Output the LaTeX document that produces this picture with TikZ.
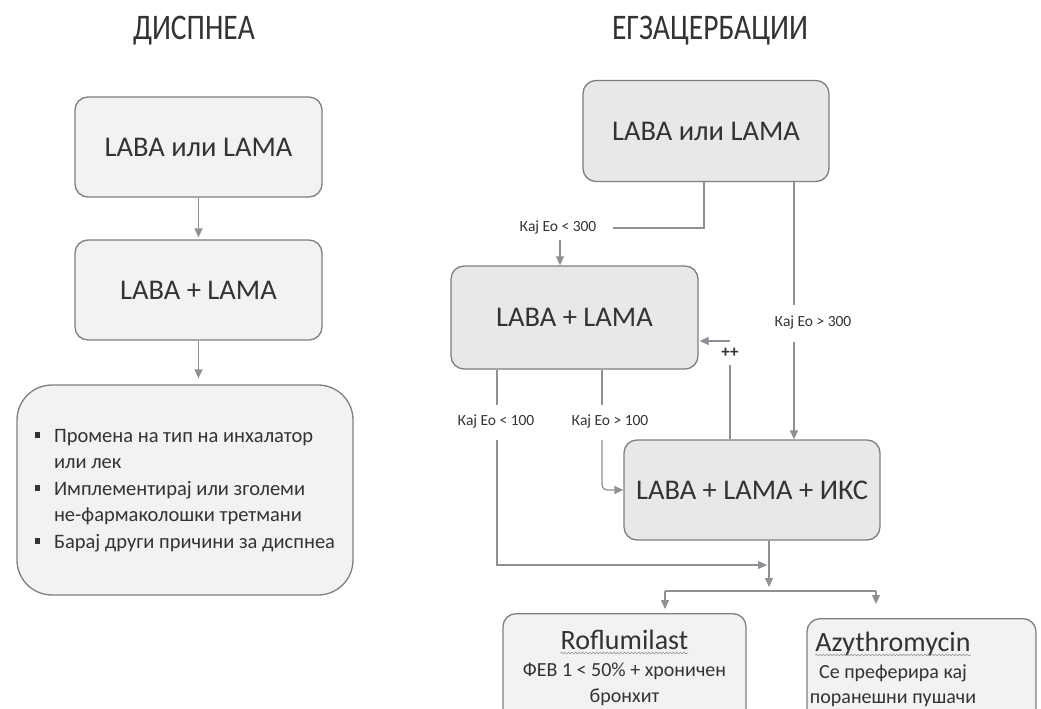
\documentclass[tikz,border=0pt]{standalone}
\usepackage{fontspec}
\setmainfont{Carlito}
\usetikzlibrary{arrows.meta,decorations.pathmorphing}
\definecolor{linegray}{HTML}{8E9096}
\definecolor{boxborder}{HTML}{7F7F7F}
\definecolor{fillL}{HTML}{F2F2F2}
\definecolor{fillR}{HTML}{E8E8EA}
\definecolor{txt}{HTML}{333333}
\newcommand{\sqbul}{\raisebox{4pt}{\rule{5pt}{6pt}}}
\begin{document}
\begin{tikzpicture}[x=1pt,y=-1pt,
  box/.style={draw=boxborder, line width=1.3pt, rounded corners=13pt, text=txt, font=\fontsize{28.5}{32}\selectfont, inner sep=0pt},
  conn/.style={draw=linegray, line width=1.3pt},
  arr/.style={conn, -{Triangle[width=8pt,length=9pt]}},
  elab/.style={text=txt, font=\fontsize{15.5}{17}\selectfont, inner sep=0pt},
  ttl/.style={text=txt, font=\fontsize{36}{40}\selectfont, inner sep=0pt},
  btxt/.style={text=txt, inner sep=0pt, anchor=base},
  wavy/.style={draw=linegray, line width=0.6pt, decorate, decoration={snake, amplitude=0.9pt, segment length=3.5pt}}]
\clip (0,0) rectangle (1041,709);
\fill[white] (0,0) rectangle (1041,709);

% titles
\node[ttl] (t1) at (194,31) {\scalebox{0.82}[1]{ДИСПНЕА}};
\node[ttl] (t2) at (710,31) {\scalebox{0.82}[1]{ЕГЗАЦЕРБАЦИИ}};

% left column
\node[box, fill=fillL, minimum width=247pt, minimum height=100pt] (L1) at (198.5,147) {LABA или LAMA};
\node[box, fill=fillL, minimum width=247pt, minimum height=100pt] (L2) at (198.5,290) {LABA + LAMA};
\node[box, fill=fillL, rounded corners=35pt, minimum width=336pt, minimum height=210pt,
      font=\fontsize{20.5}{26.5}\selectfont] (L3) at (185,490)
  {\begin{tabular}{@{}l@{\hspace{14pt}}l@{}}
   \sqbul & Промена на тип на инхалатор\\
          & или лек\\
   \sqbul & Имплементирај или зголеми\\
          & не-фармаколошки третмани\\
   \sqbul & Барај други причини за диспнеа
   \end{tabular}};
\draw[arr, shorten >=2pt] (L1.south) -- (L2.north);
\draw[arr, shorten >=6pt] (L2.south) -- (L2.south |- L3.north);

% right column
\node[box, fill=fillR, minimum width=246pt, minimum height=101pt] (R1) at (706,131) {LABA или LAMA};
\node[box, fill=fillR, minimum width=247pt, minimum height=103pt] (R2) at (574.5,317.5) {LABA + LAMA};
\node[box, fill=fillR, minimum width=256pt, minimum height=100pt] (R3) at (752,490) {LABA + LAMA + ИКС};

\node[elab] (e300a) at (558,227) {Кај Ео < 300};
\node[elab] (e300b) at (813,322) {Кај Ео > 300};
\node[elab] (e100a) at (496,421) {Кај Ео < 100};
\node[elab] (e100b) at (610,421) {Кај Ео > 100};
\node[text=txt, font=\bfseries\fontsize{17}{18}\selectfont, inner sep=0pt] (pp) at (730,353) {++};

% R1 -> R2 (Eo < 300)
\coordinate (a1) at (704,228);
\coordinate (a2) at (613,228);
\coordinate (a3) at (560,240);
\draw[conn] (R1.south -| a1) -- (a1) -- (a2);
\draw[arr] (a3) -- (a3 |- R2.north);

% R1 -> R3 (Eo > 300)
\coordinate (b1) at (794,305);
\coordinate (b2) at (794,342);
\draw[conn] (R1.south -| b1) -- (b1);
\draw[arr] (b2) -- (b2 |- R3.north);

% R3 -> R2 (++)
\coordinate (f1) at (730,365);
\coordinate (f2) at (730,341);
\draw[conn] (R3.north -| f1) -- (f1);
\draw[arr, shorten >=1pt] (f2) -- (f2 -| R2.east);

% R2 -> (Eo < 100) -> junction
\coordinate (g1) at (497,405);
\coordinate (g2) at (497,440);
\coordinate (g3) at (767,565);
\draw[conn] (R2.south -| g1) -- (g1);
\draw[arr] (g2) |- (g3);

% R2 -> R3 (Eo > 100)
\coordinate (h1) at (602,405);
\coordinate (h2) at (602,440);
\draw[conn] (R2.south -| h1) -- (h1);
\draw[arr, rounded corners=5pt] (h2) |- (R3.west);

% R3 -> split
\coordinate (j1) at (769,587);
\draw[arr] (R3.south -| j1) -- (j1);

% bottom boxes
\node[box, fill=fillL, anchor=north, minimum width=243pt, minimum height=120pt] (B1) at (624.5,613) {};
\node[box, fill=fillL, anchor=north, minimum width=229pt, minimum height=120pt] (B2) at (921.5,618) {};

\coordinate (k1) at (665,591);
\coordinate (k2) at (876,591);
\draw[conn] (k1) -- (k2);
\draw[arr, shorten >=4pt] (k1) -- (k1 |- B1.north);
\draw[arr, shorten >=9pt] (k2) -- (k2 |- B1.north);

\node[btxt, font=\fontsize{28}{32}\selectfont] (B1a) at (624.5,649) {Roflumilast};
\node[btxt, font=\fontsize{20}{27}\selectfont] (B1b) at (624.5,676) {ФЕВ 1 < 50\% + хроничен};
\node[btxt, font=\fontsize{20}{27}\selectfont] (B1c) at (624.5,702) {бронхит};
\draw[wavy] ([yshift=-4pt]B1a.base west) -- ([yshift=-4pt]B1a.base east);

\node[btxt, font=\fontsize{28}{32}\selectfont] (B2a) at (893,651) {Azythromycin};
\node[btxt, font=\fontsize{20}{27}\selectfont] (B2b) at (893,678) {Се преферира кај};
\node[btxt, font=\fontsize{20}{27}\selectfont] (B2c) at (893,703) {поранешни пушачи};
\draw[wavy] ([yshift=-4pt]B2a.base west) -- ([yshift=-4pt]B2a.base east);
\end{tikzpicture}
\end{document}
